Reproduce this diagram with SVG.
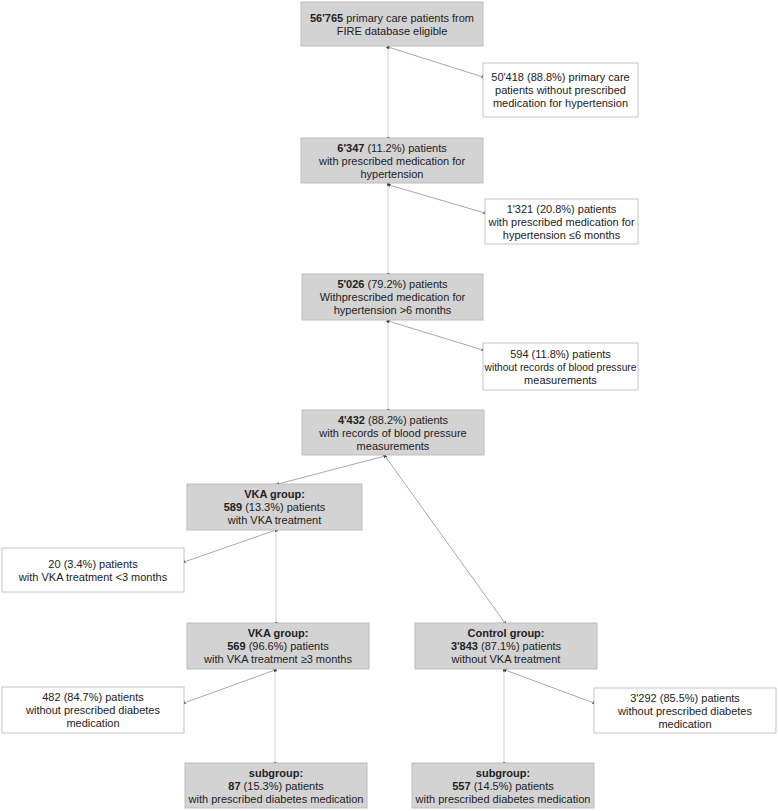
<svg xmlns="http://www.w3.org/2000/svg" width="778" height="811" viewBox="0 0 778 811">
<defs>
<marker id="dot" viewBox="0 0 4 4" refX="2" refY="2" markerWidth="3" markerHeight="3" markerUnits="userSpaceOnUse" orient="auto"><rect x="0" y="0" width="4" height="4" fill="#444"/></marker>
<style>
.g{fill:#d3d3d3;stroke:#bdbdbd;stroke-width:1}
.w{fill:#ffffff;stroke:#c4c4c4;stroke-width:1}
text{font-family:"Liberation Sans",Arial,sans-serif;font-size:11px;fill:#222;text-anchor:middle}
.b{font-weight:bold}
.v{stroke:#d0d0d0;stroke-width:1;fill:none;marker-start:url(#dot);marker-end:url(#dot)}
.d{stroke:#a8a8a8;stroke-width:1;fill:none;marker-start:url(#dot);marker-end:url(#dot)}
</style>
</defs>
<rect width="778" height="811" fill="#ffffff"/>
<g id="connectors">
<line class="v" x1="388" y1="47" x2="388" y2="138"/>
<line class="d" x1="388" y1="47" x2="483" y2="77"/>
<line class="v" x1="388" y1="184" x2="388" y2="274"/>
<line class="d" x1="389" y1="185" x2="485" y2="213"/>
<line class="v" x1="388" y1="321" x2="388" y2="410"/>
<line class="d" x1="388" y1="321" x2="483" y2="350"/>
<line class="d" x1="385" y1="456" x2="278" y2="484"/>
<line class="d" x1="385" y1="456" x2="505" y2="623"/>
<line class="v" x1="276" y1="530" x2="276" y2="623"/>
<line class="d" x1="276" y1="530" x2="184" y2="562"/>
<line class="v" x1="275" y1="670" x2="275" y2="763"/>
<line class="d" x1="275" y1="670" x2="184" y2="703"/>
<line class="v" x1="504" y1="670" x2="504" y2="763"/>
<line class="d" x1="505" y1="670" x2="594" y2="703"/>
</g>
<g id="n1"><rect class="g" x="301" y="2" width="182" height="44"/>
<text x="392" y="21.5"><tspan class="b">56'765</tspan> primary care patients from</text>
<text x="392" y="34.5">FIRE database eligible</text></g>
<g id="n1x"><rect class="w" x="483" y="63" width="155" height="54"/>
<text x="560.5" y="81">50'418 (88.8%) primary care</text>
<text x="560.5" y="94">patients without prescribed</text>
<text x="560.5" y="107">medication for hypertension</text></g>
<g id="n2"><rect class="g" x="301" y="138" width="182" height="45"/>
<text x="392" y="152"><tspan class="b">6'347</tspan> (11.2%) patients</text>
<text x="392" y="165">with prescribed medication for</text>
<text x="392" y="178">hypertension</text></g>
<g id="n2x"><rect class="w" x="485" y="199" width="153" height="45"/>
<text x="561.5" y="212.5">1'321 (20.8%) patients</text>
<text x="561.5" y="225.5">with prescribed medication for</text>
<text x="561.5" y="238.5">hypertension ≤6 months</text></g>
<g id="n3"><rect class="g" x="302" y="274" width="181" height="46"/>
<text x="392.5" y="288"><tspan class="b">5'026</tspan> (79.2%) patients</text>
<text x="392.5" y="301">Withprescribed medication for</text>
<text x="392.5" y="314">hypertension &gt;6 months</text></g>
<g id="n3x"><rect class="w" x="483" y="343" width="155" height="47"/>
<text x="560.5" y="357.5">594 (11.8%) patients</text>
<text x="560.5" y="370.5" textLength="152" lengthAdjust="spacingAndGlyphs">without records of blood pressure</text>
<text x="560.5" y="383.5">measurements</text></g>
<g id="n4"><rect class="g" x="302" y="410" width="182" height="45"/>
<text x="393" y="423.5"><tspan class="b">4'432</tspan> (88.2%) patients</text>
<text x="393" y="436.5">with records of blood pressure</text>
<text x="393" y="449.5">measurements</text></g>
<g id="vka1"><rect class="g" x="187" y="484" width="175" height="46"/>
<text x="274.5" y="498" class="b">VKA group:</text>
<text x="274.5" y="511"><tspan class="b">589</tspan> (13.3%) patients</text>
<text x="274.5" y="524">with VKA treatment</text></g>
<g id="ex20"><rect class="w" x="2" y="548" width="182" height="44"/>
<text x="93" y="567.5">20 (3.4%) patients</text>
<text x="93" y="580.5">with VKA treatment &lt;3 months</text></g>
<g id="vka2"><rect class="g" x="187" y="623" width="182" height="46"/>
<text x="278" y="637" class="b">VKA group:</text>
<text x="278" y="650"><tspan class="b">569</tspan> (96.6%) patients</text>
<text x="278" y="663">with VKA treatment ≥3 months</text></g>
<g id="control"><rect class="g" x="415" y="623" width="182" height="46"/>
<text x="506" y="637" class="b">Control group:</text>
<text x="506" y="650"><tspan class="b">3'843</tspan> (87.1%) patients</text>
<text x="506" y="663">without VKA treatment</text></g>
<g id="ex482"><rect class="w" x="2" y="687" width="182" height="46"/>
<text x="93" y="701">482 (84.7%) patients</text>
<text x="93" y="714">without prescribed diabetes</text>
<text x="93" y="727">medication</text></g>
<g id="ex3292"><rect class="w" x="594" y="688" width="182" height="45"/>
<text x="685" y="701.5">3'292 (85.5%) patients</text>
<text x="685" y="714.5">without prescribed diabetes</text>
<text x="685" y="727.5">medication</text></g>
<g id="sub87"><rect class="g" x="185" y="763" width="182" height="45"/>
<text x="276" y="776.5" class="b">subgroup:</text>
<text x="276" y="789.5"><tspan class="b">87</tspan> (15.3%) patients</text>
<text x="276" y="802.5">with prescribed diabetes medication</text></g>
<g id="sub557"><rect class="g" x="412" y="763" width="182" height="45"/>
<text x="503" y="776.5" class="b">subgroup:</text>
<text x="503" y="789.5"><tspan class="b">557</tspan> (14.5%) patients</text>
<text x="503" y="802.5">with prescribed diabetes medication</text></g>
</svg>
